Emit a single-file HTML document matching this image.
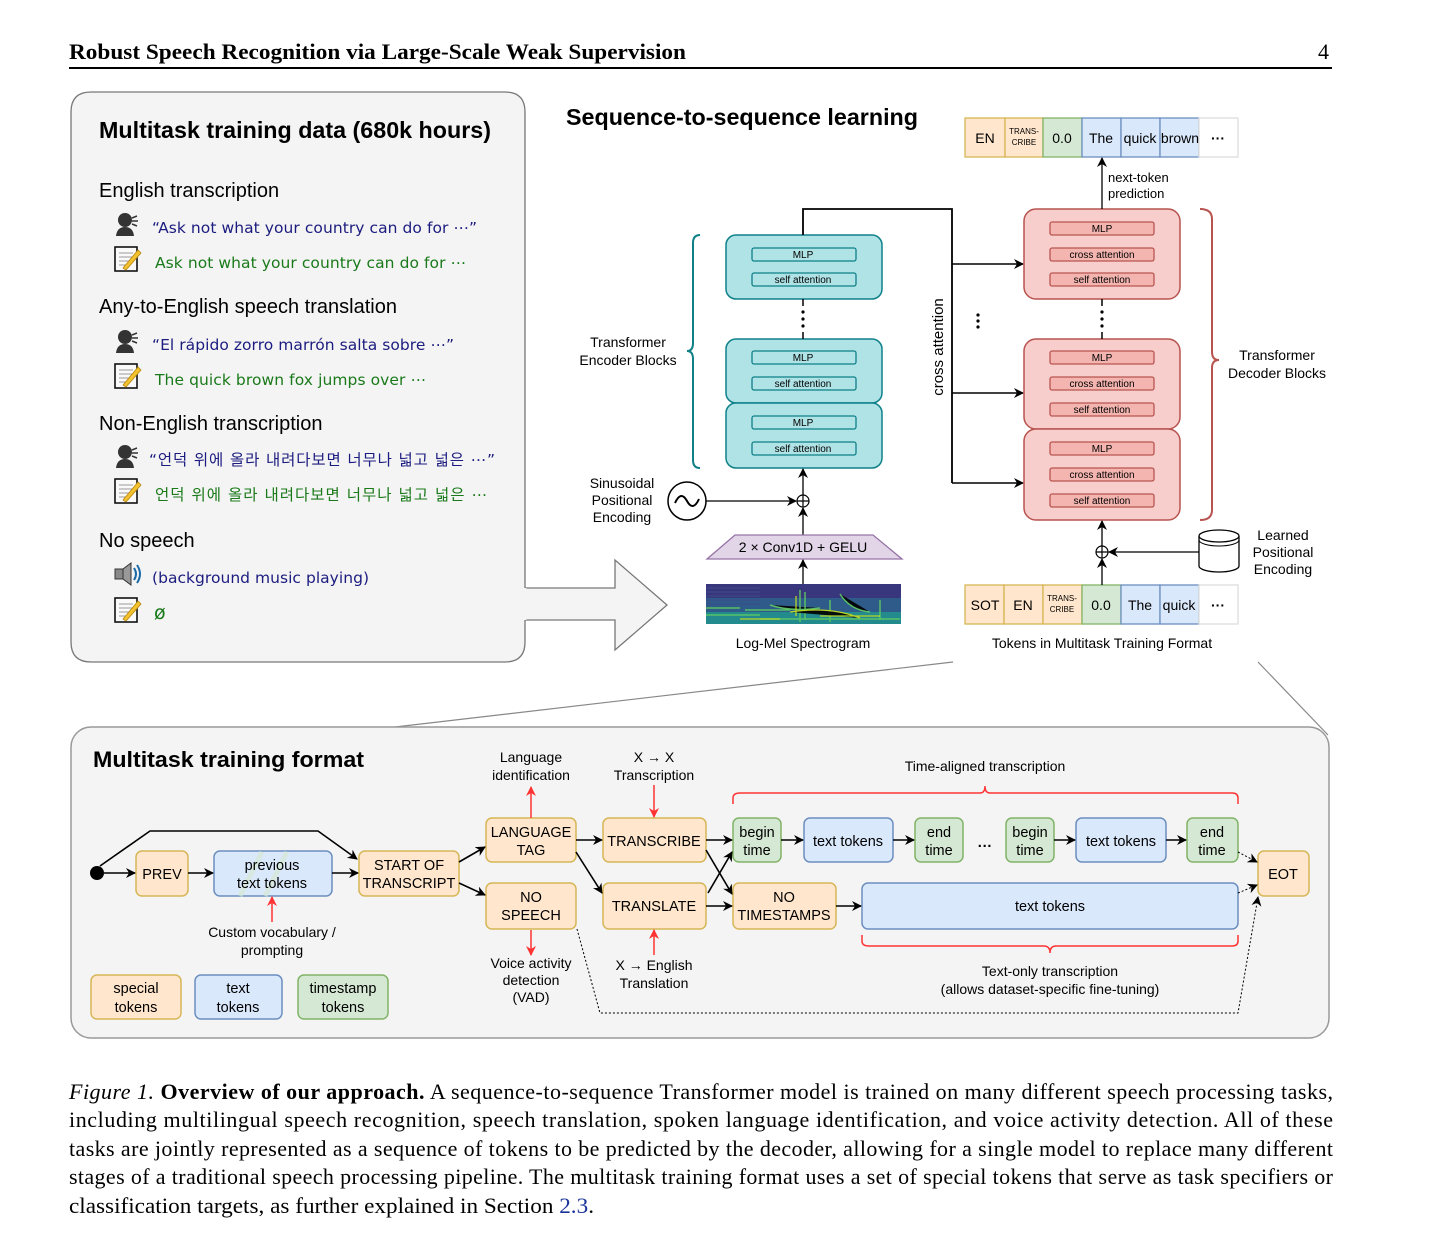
<!DOCTYPE html>
<html><head><meta charset="utf-8"><style>
html,body{margin:0;padding:0;background:#fff;}
svg{display:block;}
text{font-family:"Liberation Sans","Noto Sans CJK KR",sans-serif;}
.ser,.ser text{font-family:"Liberation Serif",serif;}
.dv{font-family:"DejaVu Sans","Noto Sans CJK KR",sans-serif;}
</style></head><body>
<svg width="1436" height="1258" viewBox="0 0 1436 1258" xmlns="http://www.w3.org/2000/svg">
<defs>
<marker id="ab" markerWidth="10" markerHeight="10" refX="9" refY="5" orient="auto" markerUnits="userSpaceOnUse"><path d="M0,0 L10,5 L0,10 L3,5 z" fill="#000"/></marker>
<marker id="ar" markerWidth="10" markerHeight="10" refX="9" refY="5" orient="auto" markerUnits="userSpaceOnUse"><path d="M0,0 L10,5 L0,10 L3,5 z" fill="#ff3333"/></marker>
<g id="person"><circle cx="10" cy="8" r="7" fill="#333"/><path d="M1,24 Q2,15 10,15 Q18,15 19,24 z" fill="#333"/><path d="M17,6 l5,-2 M17,9 l6,0 M17,12 l5,2" stroke="#333" stroke-width="1.5"/></g>
<g id="note"><rect x="1" y="1" width="22" height="24" fill="#fafafa" stroke="#111" stroke-width="1.6"/><path d="M5,7h14M5,11h14M5,15h12M5,19h10" stroke="#999" stroke-width="1"/><path d="M9,22 L24,4 L27,7 L12,24 z" fill="#f2c230" stroke="#b8860b" stroke-width="0.8"/></g>
</defs>

<!-- header -->
<text x="69" y="59" class="ser" font-size="22" font-weight="bold" textLength="617" lengthAdjust="spacingAndGlyphs">Robust Speech Recognition via Large-Scale Weak Supervision</text>
<text x="1318" y="59" class="ser" font-size="22">4</text>
<line x1="69" y1="68" x2="1332" y2="68" stroke="#000" stroke-width="2"/>

<!-- left box with arrow -->
<path d="M91,92 H505 Q525,92 525,112 V560 V588 H615 V560 L667,605 L615,650 V620 H525 V642 Q525,662 505,662 H91 Q71,662 71,642 V112 Q71,92 91,92 z" fill="#f4f4f4" stroke="#777" stroke-width="1.3"/>
<path d="M525,588 V620" stroke="#f4f4f4" stroke-width="3"/>
<text x="99" y="138" font-size="23" font-weight="bold" textLength="392" lengthAdjust="spacingAndGlyphs">Multitask training data (680k hours)</text>
<text x="99" y="197" font-size="20">English transcription</text>
<use href="#person" x="115" y="212"/><text x="152" y="233" class="dv" font-size="15.5" fill="#1c1c80" textLength="325">“Ask not what your country can do for ⋯”</text>
<use href="#note" x="114" y="246"/><text x="155" y="268" class="dv" font-size="15.5" fill="#1a7a1a" textLength="311">Ask not what your country can do for ⋯</text>
<text x="99" y="313" font-size="20">Any-to-English speech translation</text>
<use href="#person" x="115" y="329"/><text x="152" y="350" class="dv" font-size="15.5" fill="#1c1c80" textLength="302">“El rápido zorro marrón salta sobre ⋯”</text>
<use href="#note" x="114" y="363"/><text x="155" y="385" class="dv" font-size="15.5" fill="#1a7a1a" textLength="271">The quick brown fox jumps over ⋯</text>
<text x="99" y="430" font-size="20">Non-English transcription</text>
<use href="#person" x="115" y="444"/><text x="149" y="465" class="dv" font-size="15.5" fill="#1c1c80" textLength="346">“언덕 위에 올라 내려다보면 너무나 넓고 넓은 ⋯”</text>
<use href="#note" x="114" y="478"/><text x="155" y="500" class="dv" font-size="15.5" fill="#1a7a1a" textLength="332">언덕 위에 올라 내려다보면 너무나 넓고 넓은 ⋯</text>
<text x="99" y="547" font-size="20">No speech</text>
<g transform="translate(114,563)"><rect x="1" y="6" width="8" height="10" fill="#888" stroke="#333"/><path d="M9,6 L17,0 V22 L9,16 z" fill="#999" stroke="#333"/><path d="M20,5 Q24,11 20,17 M23,2 Q29,11 23,20" stroke="#1a6aa8" stroke-width="2" fill="none"/></g>
<text x="152" y="583" class="dv" font-size="15.5" fill="#1c1c80" textLength="217">(background music playing)</text>
<use href="#note" x="114" y="597"/><text x="154" y="619" class="dv" font-size="19" fill="#1a7a1a">ø</text>

<!-- seq2seq -->
<text x="566" y="125" font-size="23" font-weight="bold" textLength="352" lengthAdjust="spacingAndGlyphs">Sequence-to-sequence learning</text>

<!-- encoder -->
<g stroke="#0e8088" stroke-width="1.5" fill="#b0e3e6">
<rect x="726" y="235" width="156" height="64" rx="10"/>
<rect x="726" y="339" width="156" height="64" rx="10"/>
<rect x="726" y="403" width="156" height="65" rx="10"/>
</g>
<g stroke="#0e8088" stroke-width="1.3" fill="#b0e3e6">
<rect x="752" y="248" width="104" height="13" rx="2"/><rect x="752" y="273" width="104" height="13" rx="2"/>
<rect x="752" y="351" width="104" height="13" rx="2"/><rect x="752" y="377" width="104" height="13" rx="2"/>
<rect x="752" y="416" width="104" height="13" rx="2"/><rect x="752" y="442" width="104" height="13" rx="2"/>
</g>
<g font-size="10" text-anchor="middle">
<text x="803" y="258">MLP</text><text x="803" y="283">self attention</text>
<text x="803" y="361">MLP</text><text x="803" y="387">self attention</text>
<text x="803" y="426">MLP</text><text x="803" y="452">self attention</text>
</g>
<path d="M700,235 Q693,235 693,243 V343 Q693,351 687,351 Q693,351 693,359 V460 Q693,468 700,468" stroke="#0e8088" stroke-width="2" fill="none"/>
<text x="628" y="347" font-size="14" text-anchor="middle">Transformer</text>
<text x="628" y="365" font-size="14" text-anchor="middle">Encoder Blocks</text>

<path d="M803,235 V209 H952 V483" stroke="#000" stroke-width="1.8" fill="none"/>
<line x1="803" y1="299" x2="803" y2="306" stroke="#000" stroke-width="1.5"/>
<line x1="803" y1="332" x2="803" y2="339" stroke="#000" stroke-width="1.5"/>
<g fill="#000"><circle cx="803" cy="312" r="1.6"/><circle cx="803" cy="319" r="1.6"/><circle cx="803" cy="326" r="1.6"/>
<circle cx="978" cy="315" r="1.6"/><circle cx="978" cy="321" r="1.6"/><circle cx="978" cy="327" r="1.6"/>
<circle cx="1102" cy="312" r="1.6"/><circle cx="1102" cy="319" r="1.6"/><circle cx="1102" cy="326" r="1.6"/></g>
<g stroke="#000" stroke-width="1.5" marker-end="url(#ab)">
<line x1="952" y1="264" x2="1023" y2="264"/><line x1="952" y1="393" x2="1023" y2="393"/><line x1="952" y1="483" x2="1023" y2="483"/>
</g>
<text transform="translate(943,347) rotate(-90)" font-size="15" text-anchor="middle">cross attention</text>

<!-- sinusoidal -->
<circle cx="687" cy="501" r="19" fill="#fff" stroke="#000" stroke-width="1.5"/>
<path d="M675,503 Q681,490 687,501 Q693,512 699,499" stroke="#000" stroke-width="2" fill="none"/>
<text x="622" y="488" font-size="14" text-anchor="middle">Sinusoidal</text>
<text x="622" y="505" font-size="14" text-anchor="middle">Positional</text>
<text x="622" y="522" font-size="14" text-anchor="middle">Encoding</text>
<line x1="706" y1="501" x2="796" y2="501" stroke="#000" stroke-width="1.3" marker-end="url(#ab)"/>
<circle cx="803" cy="501" r="6" fill="#fff" stroke="#000" stroke-width="1.2"/>
<path d="M797,501h12M803,495v12" stroke="#000" stroke-width="1.2"/>
<line x1="803" y1="535" x2="803" y2="508" stroke="#000" stroke-width="1.3" marker-end="url(#ab)"/>
<line x1="803" y1="495" x2="803" y2="469" stroke="#000" stroke-width="1.3" marker-end="url(#ab)"/>
<path d="M735,535 H873 L902,559 H707 z" fill="#e1d5e7" stroke="#9673a6" stroke-width="1.3"/>
<text x="803" y="552" font-size="14" text-anchor="middle">2 × Conv1D + GELU</text>
<line x1="803" y1="584" x2="803" y2="560" stroke="#000" stroke-width="1.3" marker-end="url(#ab)"/>
<rect x="706" y="584" width="195" height="40" fill="#2f5b8a"/>
<rect x="706" y="584" width="195" height="14" fill="#3b2d78" opacity="0.8"/>
<rect x="706" y="612" width="195" height="12" fill="#238a8d"/>
<g stroke="#3e4a89" stroke-width="1"><path d="M706,588H760M706,592H760M706,596H760M706,600H760M706,604H760"/></g>
<g stroke="#5ec962" stroke-width="1.5" opacity="0.9">
<path d="M706,615 H760 M760,619 H900 M706,608 H740 M770,605 Q790,612 820,608 M840,594 Q850,610 870,612 M880,600 V620 M800,590 V622 M805,592 V620 M830,600 V622 M745,610 H790"/>
</g>
<g stroke="#c8e020" stroke-width="1.3" opacity="0.9"><path d="M790,612 Q830,606 860,618 M796,596 V616 M820,616 H880 M740,619 H780"/></g>
<text x="803" y="648" font-size="14" text-anchor="middle">Log-Mel Spectrogram</text>

<!-- decoder -->
<g stroke="#b85450" stroke-width="1.5" fill="#f8cecc">
<rect x="1024" y="209" width="156" height="90" rx="12"/>
<rect x="1024" y="339" width="156" height="90" rx="12"/>
<rect x="1024" y="429" width="156" height="91" rx="12"/>
</g>
<g stroke="#b85450" stroke-width="1.3" fill="#f4b5b0">
<rect x="1050" y="222" width="104" height="13" rx="2"/><rect x="1050" y="248" width="104" height="13" rx="2"/><rect x="1050" y="273" width="104" height="13" rx="2"/>
<rect x="1050" y="351" width="104" height="13" rx="2"/><rect x="1050" y="377" width="104" height="13" rx="2"/><rect x="1050" y="403" width="104" height="13" rx="2"/>
<rect x="1050" y="442" width="104" height="13" rx="2"/><rect x="1050" y="468" width="104" height="13" rx="2"/><rect x="1050" y="494" width="104" height="13" rx="2"/>
</g>
<g font-size="10" text-anchor="middle">
<text x="1102" y="232">MLP</text><text x="1102" y="258">cross attention</text><text x="1102" y="283">self attention</text>
<text x="1102" y="361">MLP</text><text x="1102" y="387">cross attention</text><text x="1102" y="413">self attention</text>
<text x="1102" y="452">MLP</text><text x="1102" y="478">cross attention</text><text x="1102" y="504">self attention</text>
</g>
<line x1="1102" y1="299" x2="1102" y2="306" stroke="#000" stroke-width="1.5"/>
<line x1="1102" y1="332" x2="1102" y2="339" stroke="#000" stroke-width="1.5"/>
<path d="M1200,209 Q1212,209 1212,219 V352 Q1212,360 1219,360 Q1212,360 1212,368 V510 Q1212,520 1200,520" stroke="#b85450" stroke-width="2" fill="none"/>
<text x="1277" y="360" font-size="14" text-anchor="middle">Transformer</text>
<text x="1277" y="378" font-size="14" text-anchor="middle">Decoder Blocks</text>

<!-- top tokens -->
<g stroke-width="1.3">
<rect x="965" y="118" width="40" height="39" fill="#ffe6cc" stroke="#d6b656"/>
<rect x="1005" y="118" width="38" height="39" fill="#ffe6cc" stroke="#d6b656"/>
<rect x="1043" y="118" width="39" height="39" fill="#d5e8d4" stroke="#82b366"/>
<rect x="1082" y="118" width="39" height="39" fill="#dae8fc" stroke="#6c8ebf"/>
<rect x="1121" y="118" width="39" height="39" fill="#dae8fc" stroke="#6c8ebf"/>
<rect x="1160" y="118" width="39" height="39" fill="#dae8fc" stroke="#6c8ebf"/>
<rect x="1199" y="118" width="39" height="39" fill="#fff" stroke="#ddd"/>
</g>
<g font-size="14" text-anchor="middle">
<text x="985" y="143">EN</text><text x="1062" y="143">0.0</text><text x="1101" y="143">The</text><text x="1140" y="143">quick</text><text x="1180" y="143">brown</text><text x="1218" y="143" font-weight="bold">···</text>
<text x="1024" y="134" font-size="8">TRANS-</text><text x="1024" y="145" font-size="8">CRIBE</text>
</g>
<line x1="1102" y1="209" x2="1102" y2="158" stroke="#000" stroke-width="1.3" marker-end="url(#ab)"/>
<text x="1108" y="182" font-size="13">next-token</text><text x="1108" y="198" font-size="13">prediction</text>

<!-- bottom tokens -->
<g stroke-width="1.3">
<rect x="965" y="585" width="39" height="39" fill="#ffe6cc" stroke="#d6b656"/>
<rect x="1004" y="585" width="39" height="39" fill="#ffe6cc" stroke="#d6b656"/>
<rect x="1043" y="585" width="39" height="39" fill="#ffe6cc" stroke="#d6b656"/>
<rect x="1082" y="585" width="39" height="39" fill="#d5e8d4" stroke="#82b366"/>
<rect x="1121" y="585" width="39" height="39" fill="#dae8fc" stroke="#6c8ebf"/>
<rect x="1160" y="585" width="39" height="39" fill="#dae8fc" stroke="#6c8ebf"/>
<rect x="1199" y="585" width="39" height="39" fill="#fff" stroke="#ddd"/>
</g>
<g font-size="14" text-anchor="middle">
<text x="985" y="610">SOT</text><text x="1023" y="610">EN</text><text x="1101" y="610">0.0</text><text x="1140" y="610">The</text><text x="1179" y="610">quick</text><text x="1218" y="610" font-weight="bold">···</text>
<text x="1062" y="601" font-size="8">TRANS-</text><text x="1062" y="612" font-size="8">CRIBE</text>
</g>
<line x1="1102" y1="585" x2="1102" y2="559" stroke="#000" stroke-width="1.3" marker-end="url(#ab)"/>
<circle cx="1102" cy="552" r="6" fill="#fff" stroke="#000" stroke-width="1.2"/>
<path d="M1096,552h12M1102,546v12" stroke="#000" stroke-width="1.2"/>
<line x1="1102" y1="546" x2="1102" y2="521" stroke="#000" stroke-width="1.3" marker-end="url(#ab)"/>
<line x1="1199" y1="552" x2="1109" y2="552" stroke="#000" stroke-width="1.3" marker-end="url(#ab)"/>
<path d="M1199,536 V566 A20,6 0 0 0 1239,566 V536" fill="#fff" stroke="#000" stroke-width="1.3"/>
<ellipse cx="1219" cy="536" rx="20" ry="6" fill="#fff" stroke="#000" stroke-width="1.3"/>
<path d="M1199,540 A20,6 0 0 0 1239,540" fill="none" stroke="#000" stroke-width="1"/>
<text x="1283" y="540" font-size="14" text-anchor="middle">Learned</text>
<text x="1283" y="557" font-size="14" text-anchor="middle">Positional</text>
<text x="1283" y="574" font-size="14" text-anchor="middle">Encoding</text>
<text x="1102" y="648" font-size="14" text-anchor="middle">Tokens in Multitask Training Format</text>

<!-- zoom lines -->
<line x1="953" y1="662" x2="395" y2="727" stroke="#888" stroke-width="1.2"/>
<line x1="1258" y1="662" x2="1328" y2="735" stroke="#888" stroke-width="1.2"/>

<!-- bottom box -->
<rect x="71" y="727" width="1258" height="311" rx="20" fill="#f4f4f4" stroke="#999" stroke-width="1.5"/>
<text x="93" y="767" font-size="22" font-weight="bold" textLength="271" lengthAdjust="spacingAndGlyphs">Multitask training format</text>

<g stroke-width="1.5">
<g fill="#ffe6cc" stroke="#d6b656">
<rect x="136" y="851" width="52" height="45" rx="6"/>
<rect x="359" y="851" width="100" height="45" rx="6"/>
<rect x="486" y="818" width="90" height="44" rx="6"/>
<rect x="486" y="883" width="90" height="46" rx="6"/>
<rect x="603" y="818" width="103" height="44" rx="6"/>
<rect x="603" y="883" width="103" height="46" rx="6"/>
<rect x="733" y="883" width="103" height="46" rx="6"/>
<rect x="1258" y="851" width="51" height="45" rx="6"/>
<rect x="91" y="975" width="90" height="44" rx="6"/>
</g>
<g fill="#dae8fc" stroke="#6c8ebf">
<rect x="214" y="851" width="118" height="45" rx="6"/>
<rect x="804" y="818" width="89" height="44" rx="6"/>
<rect x="1076" y="818" width="90" height="44" rx="6"/>
<rect x="862" y="883" width="376" height="46" rx="6"/>
<rect x="195" y="975" width="87" height="44" rx="6"/>
</g>
<g fill="#d5e8d4" stroke="#82b366">
<rect x="733" y="818" width="48" height="44" rx="6"/>
<rect x="915" y="818" width="48" height="44" rx="6"/>
<rect x="1006" y="818" width="48" height="44" rx="6"/>
<rect x="1187" y="818" width="51" height="44" rx="6"/>
<rect x="298" y="975" width="90" height="44" rx="6"/>
</g>
</g>
<path d="M240,896 L262,852 M265,896 L287,852" stroke="#d5e8d4" stroke-width="5" opacity="0.7"/>

<g font-size="14.5" text-anchor="middle">
<text x="162" y="879">PREV</text>
<text x="272" y="870">previous</text><text x="272" y="888">text tokens</text>
<text x="409" y="870">START OF</text><text x="409" y="888">TRANSCRIPT</text>
<text x="531" y="837">LANGUAGE</text><text x="531" y="855">TAG</text>
<text x="531" y="902">NO</text><text x="531" y="920">SPEECH</text>
<text x="654" y="846">TRANSCRIBE</text>
<text x="654" y="911">TRANSLATE</text>
<text x="757" y="837">begin</text><text x="757" y="855">time</text>
<text x="848" y="846">text tokens</text>
<text x="939" y="837">end</text><text x="939" y="855">time</text>
<text x="1030" y="837">begin</text><text x="1030" y="855">time</text>
<text x="1121" y="846">text tokens</text>
<text x="1212" y="837">end</text><text x="1212" y="855">time</text>
<text x="784" y="902">NO</text><text x="784" y="920">TIMESTAMPS</text>
<text x="1050" y="911">text tokens</text>
<text x="1283" y="879">EOT</text>
<text x="136" y="993">special</text><text x="136" y="1012">tokens</text>
<text x="238" y="993">text</text><text x="238" y="1012">tokens</text>
<text x="343" y="993">timestamp</text><text x="343" y="1012">tokens</text>
<text x="985" y="851" font-weight="bold">···</text>
</g>

<g font-size="14" text-anchor="middle">
<text x="531" y="762">Language</text><text x="531" y="780">identification</text>
<text x="654" y="762">X → X</text><text x="654" y="780">Transcription</text>
<text x="985" y="771">Time-aligned transcription</text>
<text x="272" y="937">Custom vocabulary /</text><text x="272" y="955">prompting</text>
<text x="531" y="968">Voice activity</text><text x="531" y="985">detection</text><text x="531" y="1002">(VAD)</text>
<text x="654" y="970">X → English</text><text x="654" y="988">Translation</text>
<text x="1050" y="976">Text-only transcription</text>
<text x="1050" y="994">(allows dataset-specific fine-tuning)</text>
</g>

<!-- red braces and arrows -->
<g stroke="#ff3333" stroke-width="1.5" fill="none">
<path d="M733,804 V798 Q733,793 740,793 H980 Q985,793 985,786 Q985,793 990,793 H1232 Q1238,793 1238,798 V804"/>
<path d="M862,935 V941 Q862,946 869,946 H1044 Q1050,946 1050,953 Q1050,946 1056,946 H1232 Q1238,946 1238,941 V935"/>
</g>
<g stroke="#ff3333" stroke-width="1.5" marker-end="url(#ar)">
<line x1="531" y1="818" x2="531" y2="787"/>
<line x1="654" y1="785" x2="654" y2="817"/>
<line x1="531" y1="930" x2="531" y2="955"/>
<line x1="654" y1="955" x2="654" y2="930"/>
<line x1="272" y1="922" x2="272" y2="897"/>
</g>

<!-- black arrows -->
<circle cx="97" cy="873" r="7" fill="#000"/>
<g stroke="#000" stroke-width="1.6" fill="none" marker-end="url(#ab)">
<line x1="104" y1="873" x2="135" y2="873"/>
<line x1="188" y1="873" x2="213" y2="873"/>
<line x1="332" y1="873" x2="358" y2="873"/>
<path d="M100,866 L150,831 H318 L357,859"/>
<line x1="459" y1="862" x2="485" y2="847"/>
<line x1="459" y1="883" x2="485" y2="895"/>
<line x1="576" y1="840" x2="602" y2="840"/>
<line x1="576" y1="852" x2="602" y2="893"/>
<line x1="706" y1="840" x2="732" y2="840"/>
<line x1="706" y1="906" x2="732" y2="906"/>
<line x1="706" y1="850" x2="732" y2="894"/>
<line x1="708" y1="893" x2="732" y2="852"/>
<line x1="781" y1="840" x2="803" y2="840"/>
<line x1="893" y1="840" x2="914" y2="840"/>
<line x1="1054" y1="840" x2="1075" y2="840"/>
<line x1="1166" y1="840" x2="1186" y2="840"/>
<line x1="836" y1="906" x2="861" y2="906"/>
</g>
<g stroke="#000" stroke-width="1" stroke-dasharray="2,2" fill="none" marker-end="url(#ab)">
<path d="M577,929 L600,1013 H1238 L1258,897"/>
<line x1="1238" y1="852" x2="1257" y2="862"/>
<line x1="1238" y1="893" x2="1257" y2="885"/>
</g>

<!-- caption -->
<g class="ser" font-size="22">
<text x="69" y="1099" textLength="1264" lengthAdjust="spacing"><tspan font-style="italic">Figure 1.</tspan> <tspan font-weight="bold">Overview of our approach.</tspan> A sequence-to-sequence Transformer model is trained on many different speech processing tasks,</text>
<text x="69" y="1127" textLength="1264" lengthAdjust="spacing">including multilingual speech recognition, speech translation, spoken language identification, and voice activity detection. All of these</text>
<text x="69" y="1156" textLength="1264" lengthAdjust="spacing">tasks are jointly represented as a sequence of tokens to be predicted by the decoder, allowing for a single model to replace many different</text>
<text x="69" y="1184" textLength="1264" lengthAdjust="spacing">stages of a traditional speech processing pipeline. The multitask training format uses a set of special tokens that serve as task specifiers or</text>
<text x="69" y="1213" textLength="525" lengthAdjust="spacingAndGlyphs">classification targets, as further explained in Section <tspan fill="#1a3399">2.3</tspan>.</text>
</g>
</svg>
</body></html>
